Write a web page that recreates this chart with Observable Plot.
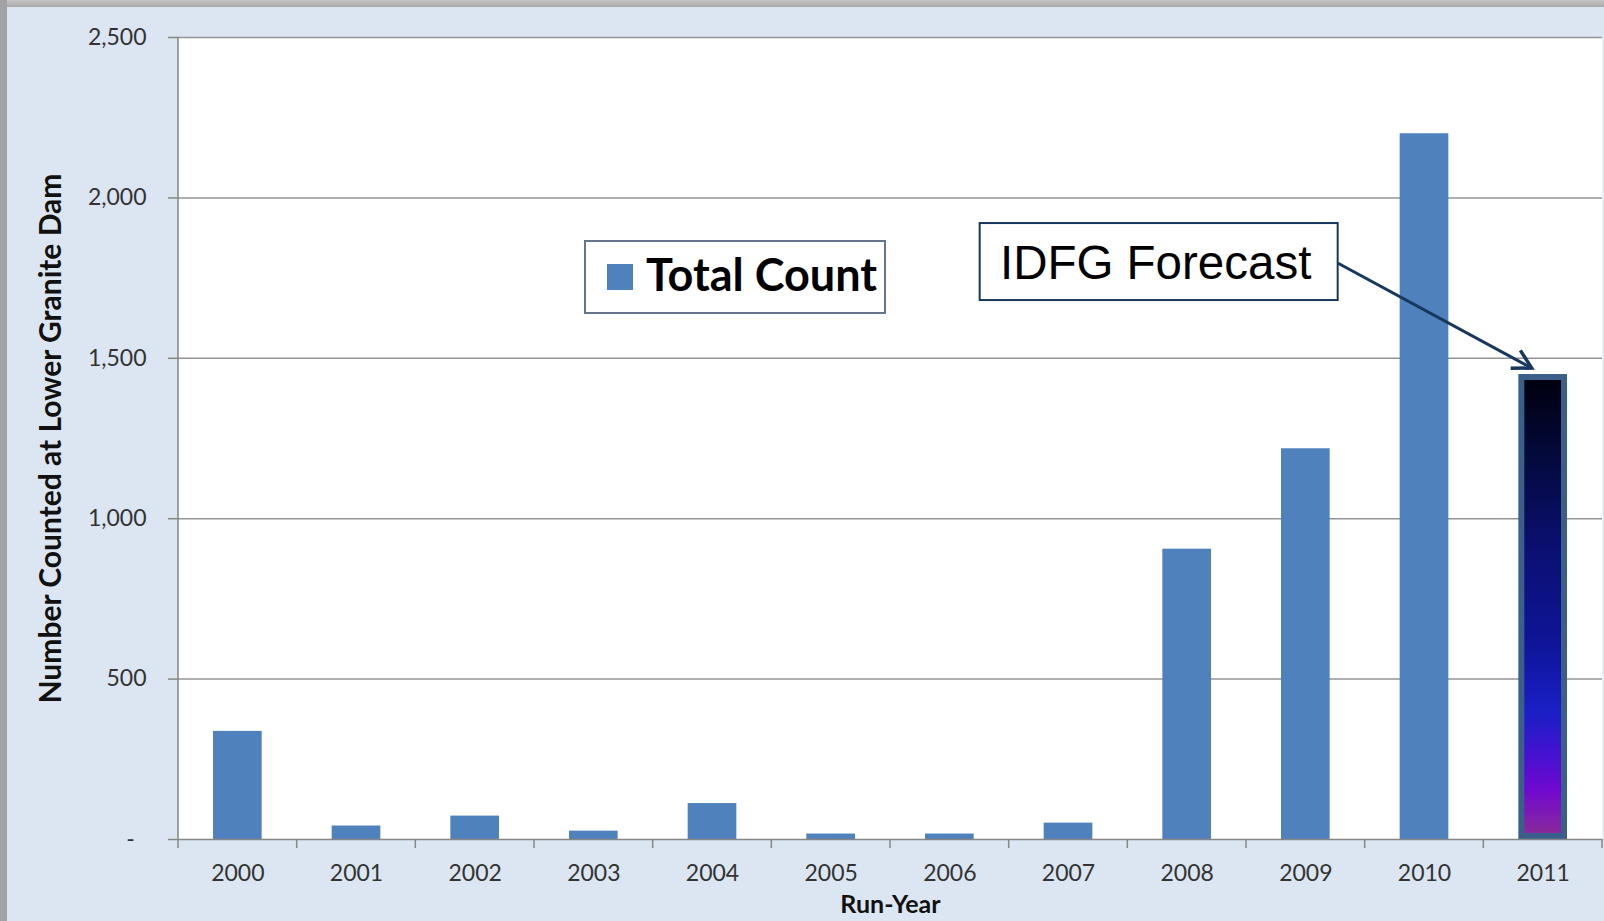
<!DOCTYPE html>
<html>
<head>
<meta charset="utf-8">
<script src="https://cdn.jsdelivr.net/npm/d3@7"></script>
<script src="https://cdn.jsdelivr.net/npm/@observablehq/plot@0.6"></script>
<style>
  html, body { margin: 0; padding: 0; }
  #page { position: relative; width: 1604px; height: 921px; background: #dce6f2; overflow: hidden; font-family: Lato, sans-serif; }
  #chart { position: absolute; left: 0; top: 0; }
  #topStrip { position: absolute; left: 0; top: 0; width: 1604px; height: 7px; background: linear-gradient(#c4c4c4, #a9a9a9); }
  #leftStrip { position: absolute; left: 0; top: 0; width: 7px; height: 921px; background: #a3a3a3; }
  #legend { position: absolute; left: 584px; top: 240px; }
</style>
</head>
<body>
<div id="page">
  <div id="chart"></div>
  <div id="topStrip"></div>
  <div id="leftStrip"></div>
  <div id="legend"></div>
</div>
<script>
// ---- data ----
const years = ["2000", "2001", "2002", "2003", "2004", "2005", "2006", "2007", "2008", "2009", "2010", "2011"];
const counts = [337, 42, 73, 26, 112, 17, 17, 51, 905, 1218, 2200, 1440];
const forecastYear = "2011";
const yTicks = [0, 500, 1000, 1500, 2000, 2500];
const seriesName = "Total Count";
const annotationText = "IDFG Forecast";
const xTitle = "Run-Year";
const yTitle = "Number Counted at Lower Granite Dam";

// ---- styles ----
const barColor = "#4f81bd";
const forecastStroke = "#3a5f8b";
const gridColor = "#949494";
const axisColor = "#868686";
const tickTextColor = "#333333";
const arrowColor = "#17375e";
const gradientStops = [
  [0, "#00000c"], [0.18, "#040a3e"], [0.35, "#0a0f6c"], [0.58, "#0e1598"],
  [0.73, "#1a1fc6"], [0.82, "#4412d0"], [0.90, "#7008d0"], [1, "#8a2c98"]
];

const data = years.map((year, i) => ({year, count: counts[i], forecast: year === forecastYear}));
const observed = data.filter(d => !d.forecast);
const forecast = data.filter(d => d.forecast);

const NS = "http://www.w3.org/2000/svg";
function el(name, attrs) {
  const e = document.createElementNS(NS, name);
  for (const k in attrs) e.setAttribute(k, attrs[k]);
  return e;
}

function defsMark() {
  const defs = el("defs", {});
  const lg = el("linearGradient", {id: "forecastGrad", x1: 0, y1: 0, x2: 0, y2: 1});
  for (const [o, c] of gradientStops) lg.appendChild(el("stop", {offset: o, "stop-color": c}));
  defs.appendChild(lg);
  return defs;
}

function bandTicks(index, scales) {
  const x = scales.x, y = scales.y;
  const bw = x.bandwidth(), step = x.step();
  const g = el("g", {stroke: axisColor, "stroke-width": 1.5});
  const y0 = y(0);
  const bounds = years.map(yr => x(yr) + bw / 2 - step / 2);
  bounds.push(x(years[years.length - 1]) + bw / 2 + step / 2);
  for (const b of bounds) g.appendChild(el("line", {x1: b, x2: b, y1: y0, y2: y0 + 9}));
  const left = bounds[0];
  g.appendChild(el("line", {x1: left, x2: left, y1: y(yTicks[yTicks.length - 1]), y2: y0}));
  return g;
}

function annotation(index, scales) {
  const x = scales.x, y = scales.y;
  const d = forecast[0];
  const cx = x(d.year) + x.bandwidth() / 2;
  const top = y(d.count) - 3;
  const tipX = cx - 11, tipY = top - 6;
  const boxR = tipX - 194, boxT = tipY - 145, boxW = 358, boxH = 77;
  const g = el("g", {});
  g.appendChild(el("rect", {x: boxR - boxW, y: boxT, width: boxW, height: boxH, fill: "white", stroke: arrowColor, "stroke-width": 2}));
  const t = el("text", {x: boxR - boxW / 2 - 3, y: boxT + 56, "text-anchor": "middle", "font-family": "'Liberation Sans', Arial, sans-serif", "font-size": 47.5, fill: "#000"});
  t.textContent = annotationText;
  g.appendChild(t);
  const sx = boxR, sy = tipY - 105;
  g.appendChild(el("line", {x1: sx, y1: sy, x2: tipX, y2: tipY, stroke: arrowColor, "stroke-width": 3}));
  const ang = Math.atan2(sy - tipY, sx - tipX);
  const L = 21, h = 29 * Math.PI / 180;
  const p1 = [tipX + L * Math.cos(ang - h), tipY + L * Math.sin(ang - h)];
  const p2 = [tipX + L * Math.cos(ang + h), tipY + L * Math.sin(ang + h)];
  g.appendChild(el("path", {d: `M${p1[0]},${p1[1]}L${tipX},${tipY}L${p2[0]},${p2[1]}`, fill: "none", stroke: arrowColor, "stroke-width": 3.5, "stroke-linejoin": "miter"}));
  return g;
}

const chart = Plot.plot({
  width: 1604,
  height: 921,
  marginLeft: 178,
  marginRight: 2,
  marginTop: 37,
  marginBottom: 82,
  style: {background: "transparent", fontFamily: "Lato, sans-serif", fontSize: "22px", overflow: "visible"},
  x: {type: "band", domain: years, paddingInner: 0.59, paddingOuter: 0.295, align: 0.5, round: false},
  y: {domain: [0, 2500]},
  marks: [
    defsMark,
    Plot.frame({fill: "white", stroke: "none"}),
    Plot.ruleY(yTicks.filter(v => v > 0), {stroke: gridColor, strokeWidth: 1.5}),
    Plot.barY(observed, {x: "year", y: "count", fill: barColor, inset: 0}),
    Plot.barY(forecast, {x: "year", y: "count", fill: "url(#forecastGrad)", stroke: forecastStroke, strokeWidth: 6,
      insetLeft: 3, insetRight: 3, insetBottom: 3, insetTop: 0}),
    Plot.ruleY([0], {stroke: axisColor, strokeWidth: 1.5}),
    Plot.axisY({ticks: yTicks, tickSize: 10, tickPadding: 22, strokeWidth: 1.5,
      tickFormat: v => v === 0 ? "-\u00a0\u00a0" : d3.format(",")(v),
      stroke: axisColor, fill: tickTextColor, fontSize: 23, label: null}),
    Plot.axisX({tickSize: 0, tickPadding: 25, fill: tickTextColor, fontSize: 23, label: null}),
    bandTicks,
    Plot.text([yTitle], {text: d => d, frameAnchor: "left", textAnchor: "middle", dx: -127, rotate: -90, fontWeight: "bold", fontSize: 30, fill: "#111"}),
    Plot.text([xTitle], {text: d => d, frameAnchor: "bottom", textAnchor: "middle", dy: 73, fontWeight: "bold", fontSize: 25, fill: "#111"}),
    annotation
  ]
});
document.getElementById("chart").appendChild(chart);

// legend (inside plot area, as in the reference)
const lsvg = el("svg", {width: 303, height: 75});
lsvg.appendChild(el("rect", {x: 1, y: 1, width: 300, height: 72, fill: "white", stroke: "#66758b", "stroke-width": 2}));
lsvg.appendChild(el("rect", {x: 23, y: 24, width: 26, height: 26, fill: barColor}));
const lt = el("text", {x: 62, y: 51, "font-family": "Lato, sans-serif", "font-weight": "bold", "font-size": 45, fill: "#000"});
lt.textContent = seriesName;
lsvg.appendChild(lt);
document.getElementById("legend").appendChild(lsvg);
</script>
</body>
</html>
